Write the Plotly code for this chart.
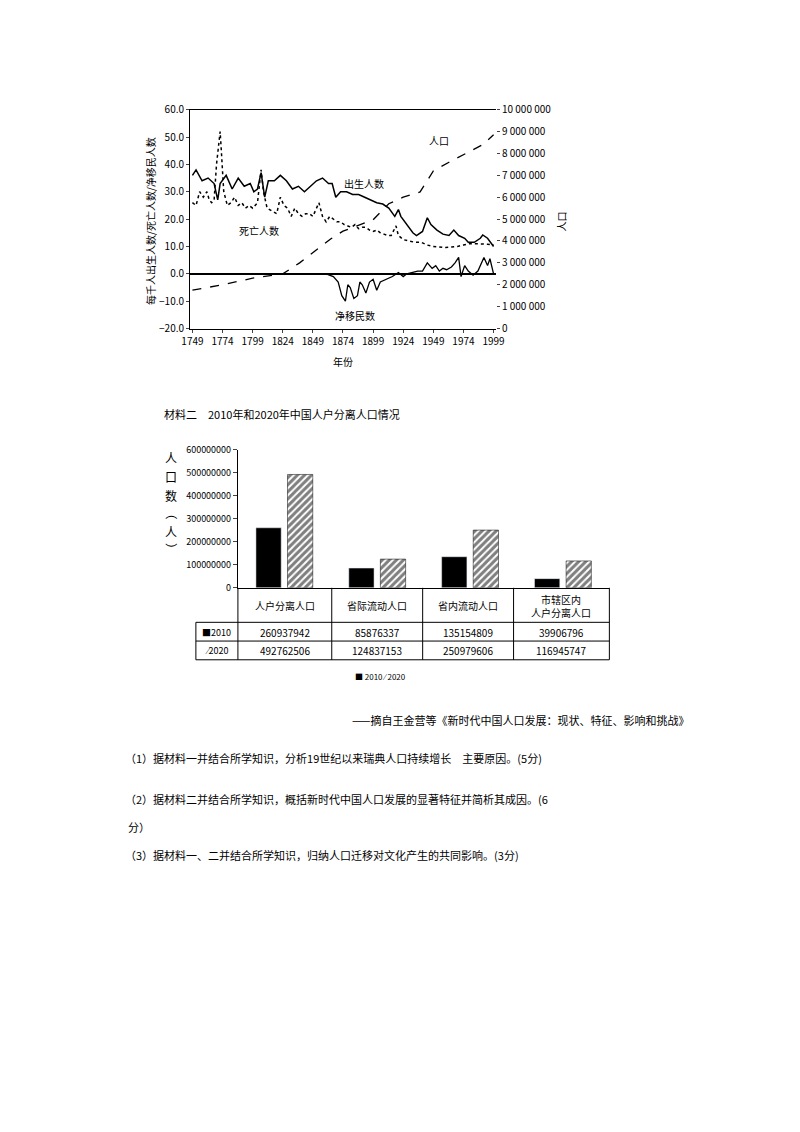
import plotly.graph_objects as go

W, H = 800, 1132
FONT = "Noto Sans CJK SC"

# ===== 材料一：瑞典人口 =====
birth_years = [1749, 1752, 1757, 1762, 1767, 1770, 1772, 1777, 1782, 1787, 1792, 1797, 1800, 1803,
               1806, 1809, 1812, 1817, 1822, 1827, 1832, 1837, 1842, 1847, 1852, 1857, 1862, 1865,
               1868, 1872, 1877, 1882, 1887, 1892, 1897, 1902, 1907, 1912, 1917, 1920, 1922, 1927,
               1932, 1935, 1940, 1944, 1947, 1952, 1957, 1962, 1966, 1970, 1975, 1978, 1983, 1988,
               1990, 1994, 1999]
birth_rate = [36, 38, 34, 35, 33, 27, 33, 36, 31, 35, 32, 33, 30, 31,
              37, 28, 34, 34, 36, 34, 31, 32, 30, 32, 34, 35, 33, 33,
              28, 30, 30, 29, 29, 28, 27, 26, 25.5, 24, 21, 23.5, 21, 18,
              15, 14, 15.5, 20.5, 18, 16, 14.5, 14, 16, 14, 13, 11.5, 11.5, 13,
              14.2, 13, 10]

death_years = [1749, 1752, 1755, 1758, 1761, 1763, 1765, 1767, 1769, 1772, 1773, 1775, 1778, 1781,
               1784, 1787, 1790, 1793, 1796, 1799, 1803, 1806, 1808, 1811, 1815, 1819, 1822, 1825,
               1828, 1831, 1834, 1837, 1840, 1843, 1846, 1849, 1852, 1854, 1857, 1860, 1863, 1866,
               1869, 1872, 1875, 1878, 1881, 1884, 1887, 1890, 1893, 1896, 1899, 1902, 1905, 1908,
               1911, 1914, 1918, 1920, 1924, 1929, 1934, 1939, 1944, 1949, 1954, 1959, 1964, 1969,
               1974, 1979, 1984, 1989, 1994, 1999]
death_rate = [26, 25, 30, 28, 30, 27, 26, 27, 40, 52, 45, 30, 25, 26,
              28, 25, 26, 24, 25, 24, 26, 38, 30, 24, 23, 22, 28, 25,
              24, 21, 24, 22, 21, 22, 22, 21, 24, 26, 21, 19, 21, 20,
              19, 19, 18, 17.5, 17, 18, 16.5, 17, 17, 16, 15.5, 16, 15, 14.5,
              14, 14, 17.5, 14, 12.5, 12, 11.5, 11.5, 10.5, 10, 9.7, 9.6, 9.8, 10,
              10.5, 11, 11, 11, 10.8, 10.5]

pop_years = [1749, 1774, 1799, 1815, 1824, 1838, 1852, 1864, 1874, 1884, 1899, 1912, 1924, 1938,
             1949, 1962, 1974, 1990, 1999]
population = [1750000, 2000000, 2300000, 2450000, 2500000, 3000000, 3600000, 4100000, 4450000,
              4650000, 4970000, 5700000, 6000000, 6240000, 7200000, 7600000, 7950000, 8400000, 8850000]

mig_years = [1749, 1860, 1866, 1870, 1873, 1876, 1878, 1880, 1883, 1886, 1888, 1890, 1893, 1896,
             1899, 1902, 1905, 1910, 1915, 1920, 1924, 1927, 1932, 1936, 1940, 1944, 1948, 1951,
             1954, 1957, 1960, 1964, 1967, 1970, 1972, 1975, 1978, 1982, 1986, 1989, 1991, 1994,
             1996, 1999]
net_migration = [0, 0, -1, -3, -8, -10, -4, -5, -9, -8, -3, -4, -7, -3,
                 -2, -6, -3, -2, -1, 0.5, -1, 0, 0.5, 1, 1, 4, 2, 3,
                 1, 2, 1.5, 2.5, 4, 6, -1, 3, 1, -0.5, 1, 4, 6, 3,
                 5.5, 0]

year_ticks = [1749, 1774, 1799, 1824, 1849, 1874, 1899, 1924, 1949, 1974, 1999]
rate_ticks = [-20, -10, 0, 10, 20, 30, 40, 50, 60]
pop_ticks = [0, 1000000, 2000000, 3000000, 4000000, 5000000, 6000000, 7000000, 8000000, 9000000, 10000000]
pop_tick_text = ["0", "1 000 000", "2 000 000", "3 000 000", "4 000 000", "5 000 000",
                 "6 000 000", "7 000 000", "8 000 000", "9 000 000", "10 000 000"]

# ===== 材料二：人户分离 =====
categories = ["人户分离人口", "省际流动人口", "省内流动人口", "市辖区内<br>人户分离人口"]
values_2010 = [260937942, 85876337, 135154809, 39906796]
values_2020 = [492762506, 124837153, 250979606, 116945747]
bar_ticks = [0, 100000000, 200000000, 300000000, 400000000, 500000000, 600000000]

OFF = 8  # page offset seen in render


def px_x(x):
    return x / W


def px_y(y):
    return 1 - (y - OFF) / H


fig = go.Figure()

# top chart
fig.add_trace(go.Scatter(x=birth_years, y=birth_rate, mode="lines",
                         line=dict(color="black", width=1.5), xaxis="x", yaxis="y"))
fig.add_trace(go.Scatter(x=death_years, y=death_rate, mode="lines",
                         line=dict(color="black", width=1.5, dash="dot"), xaxis="x", yaxis="y"))
fig.add_trace(go.Scatter(x=mig_years, y=net_migration, mode="lines",
                         line=dict(color="black", width=1.3), xaxis="x", yaxis="y"))
fig.add_trace(go.Scatter(x=pop_years, y=population, mode="lines",
                         line=dict(color="black", width=1.3, dash="dash"), xaxis="x", yaxis="y2"))

# bar chart
fig.add_trace(go.Bar(x=categories, y=values_2010, name="2010", marker=dict(color="black"),
                     xaxis="x3", yaxis="y3"))
fig.add_trace(go.Bar(x=categories, y=values_2020, name="2020",
                     marker=dict(color="white", line=dict(color="black", width=0.5),
                                 pattern=dict(shape="/", fgcolor="black", bgcolor="white",
                                              solidity=0.6, size=5)),
                     xaxis="x3", yaxis="y3"))

ax_font = dict(family=FONT, size=10, color="black")
fig.update_layout(
    width=W, height=H, margin=dict(l=0, r=0, t=0, b=0),
    paper_bgcolor="white", plot_bgcolor="white", showlegend=False,
    bargap=0.32, bargroupgap=0.2,
    xaxis=dict(domain=[px_x(177), px_x(490)], range=[1747, 2001], tickvals=year_ticks,
               showgrid=False, showline=True, linecolor="black", mirror=True, ticks="outside",
               ticklen=3, tickfont=ax_font, zeroline=False, anchor="y"),
    yaxis=dict(domain=[px_y(324), px_y(102)], range=[-20, 60], tickvals=rate_ticks,
               tickformat=".1f", showgrid=False, showline=True, linecolor="black",
               ticks="outside", ticklen=3, tickfont=ax_font, zeroline=True,
               zerolinecolor="black", zerolinewidth=1.5),
    yaxis2=dict(overlaying="y", side="right", anchor="x", range=[0, 10000000],
                tickvals=pop_ticks, ticktext=pop_tick_text, showgrid=False,
                ticks="outside", ticklen=3, tickfont=ax_font, zeroline=False),
    xaxis3=dict(domain=[px_x(226), px_x(606)], anchor="y3", showticklabels=False,
                showgrid=False, showline=True, linecolor="black", ticks=""),
    yaxis3=dict(domain=[px_y(587), px_y(447)], anchor="x3", range=[0, 600000000],
                tickvals=bar_ticks, tickformat="d", showgrid=False, showline=True,
                linecolor="black", ticks="outside", ticklen=4,
                tickfont=dict(family=FONT, size=9, color="black"), zeroline=False),
)

ann = []


def text(x, y, s, size=11, xanchor="left", angle=0):
    ann.append(dict(x=px_x(x), y=px_y(y), xref="paper", yref="paper", text=s, showarrow=False,
                    xanchor=xanchor, yanchor="middle", textangle=angle,
                    font=dict(family=FONT, size=size, color="black")))


# top chart labels
text(136, 215, "每千人出生人数/死亡人数/净移民人数", 10, "center", -90)
text(557, 215, "人口", 10, "center", -90)
text(333, 357, "年份", 10, "center")
text(432, 133, "人口", 10, "center")
text(355, 177, "出生人数", 10, "center")
text(248, 225, "死亡人数", 10, "center")
text(346, 311, "净移民数", 10, "center")

text(148, 411, "材料二　2010年和2020年中国人户分离人口情况", 11)

# bar chart y title
text(158, 455, "人", 12, "center")
text(158, 474, "口", 12, "center")
text(158, 493, "数", 12, "center")
text(158, 512, "（", 12, "center", 90)
text(158, 530, "人", 12, "center")
text(158, 548, "）", 12, "center", 90)

# table
cols = [226, 322, 415, 508, 606]
for i, c in enumerate(categories):
    text((cols[i] + cols[i + 1]) / 2, 605, c, 10, "center")
    text((cols[i] + cols[i + 1]) / 2, 632, str(values_2010[i]), 10, "center")
    text((cols[i] + cols[i + 1]) / 2, 651, str(values_2020[i]), 10, "center")
text(204, 632, "■2010", 9, "center")
text(204, 651, "⁄2020", 9, "center")
text(372, 677, "■ 2010 ⁄ 2020", 8, "center")

shapes = []


def line(x0, y0, x1, y1):
    shapes.append(dict(type="line", xref="paper", yref="paper", x0=px_x(x0), y0=px_y(y0),
                       x1=px_x(x1), y1=px_y(y1), line=dict(color="black", width=1)))


for yy in [622, 641, 660]:
    line(183, yy, 606, yy)
for xx in cols:
    line(xx, 587, xx, 660)
line(183, 622, 183, 660)

# source & questions
text(690, 721, "——摘自王金营等《新时代中国人口发展：现状、特征、影响和挑战》", 11, "right")
text(108, 760, "（1）据材料一并结合所学知识，分析19世纪以来瑞典人口持续增长　主要原因。(5分)", 11)
text(108, 801, "（2）据材料二并结合所学知识，概括新时代中国人口发展的显著特征并简析其成因。(6", 11)
text(112, 830, "分）", 11)
text(108, 858, "（3）据材料一、二并结合所学知识，归纳人口迁移对文化产生的共同影响。(3分)", 11)

fig.update_layout(annotations=ann, shapes=shapes)
fig.write_html("out.html")
